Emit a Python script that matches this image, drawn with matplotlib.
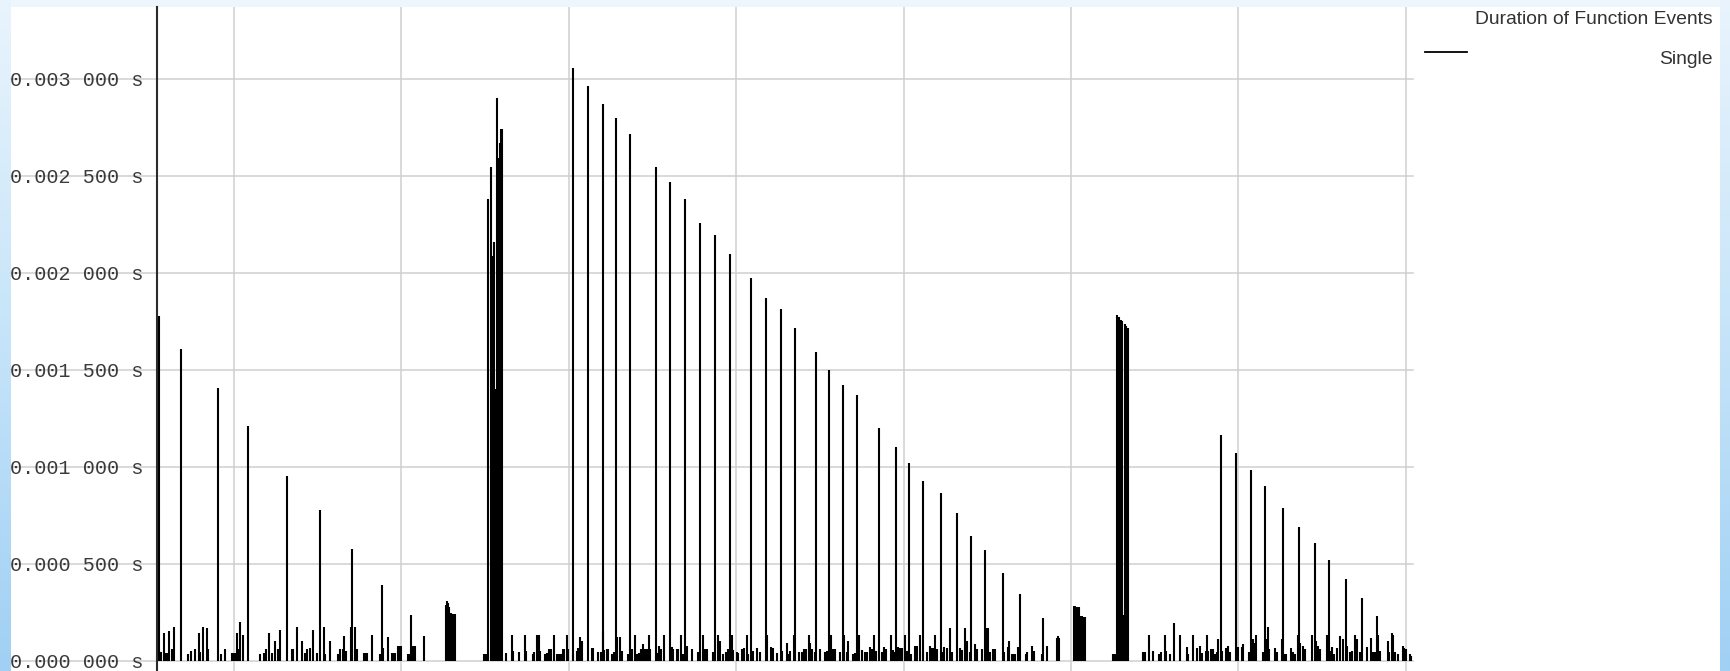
import matplotlib
matplotlib.use("Agg")
import matplotlib.pyplot as plt
import numpy as np
from matplotlib.lines import Line2D
from matplotlib.colors import LinearSegmentedColormap

# ---------------- data: event start time (ms) and duration (microseconds) ----------------
left_t = [0.5520, 0.6834, 0.9044, 1.0818, 1.3166, 1.5137, 1.7067, 1.8861, 2.0554, 2.1370]
left_us = [1780, 1610, 1406, 1213, 954, 780, 577, 392, 235, 131]

clusterA_t = [2.2664, 2.2724, 2.2784, 2.2844, 2.2903, 2.2963, 2.3023, 2.3083, 2.3142, 2.3202]
clusterA_us = [290, 307, 300, 280, 246, 246, 242, 242, 242, 242]

clusterB_t = [2.4934, 2.4994, 2.5054, 2.5114, 2.5173, 2.5197, 2.5352, 2.5436, 2.5532,
              2.5615, 2.5711, 2.5794, 2.5872, 2.5950, 2.6027]
clusterB_us = [36, 36, 36, 36, 36, 2380, 2545, 2085, 2160, 1400, 2900, 2590, 2670, 2740, 2740]

mid_t = [3.0251, 3.1129, 3.2013, 3.2820, 3.3674, 3.5209, 3.6057, 3.6959, 3.7850, 3.8734,
         3.9630, 4.0866, 4.1786, 4.2652, 4.3513, 4.4767, 4.5556, 4.6356, 4.7187, 4.8536,
         4.9516, 5.0323, 5.1147, 5.2217, 5.3184, 5.4020, 5.4833, 5.5960, 5.6924, 5.8298]
mid_us = [3058, 2963, 2870, 2800, 2715, 2545, 2470, 2380, 2260, 2195,
          2100, 1975, 1870, 1815, 1715, 1595, 1500, 1420, 1370, 1200,
          1105, 1020, 925, 865, 760, 645, 570, 455, 347, 223]

clusterC_t = [6.0200, 6.0259, 6.0339, 6.0419, 6.0498, 6.0578, 6.0658, 6.0737, 6.0817]
clusterC_us = [283, 283, 277, 277, 277, 232, 232, 225, 225]

clusterD_t = [6.2509, 6.2599, 6.2688, 6.2748, 6.2897, 6.2987, 6.3059, 6.3136, 6.3214, 6.3298, 6.3382]
clusterD_us = [36, 36, 36, 1785, 1773, 1758, 1750, 235, 1735, 1725, 1718]

right_t = [6.8960, 6.9838, 7.0734, 7.1606, 7.2664, 7.3639, 7.4554, 7.5430, 7.6411, 7.7365, 7.8280]
right_us = [1167, 1070, 986, 900, 790, 690, 610, 520, 423, 325, 234]

small1_t = [0.5480, 0.5540, 0.5619, 0.5838, 0.5918, 0.5978, 0.6017, 0.6117, 0.6276, 0.6436,
            0.7232, 0.7431, 0.7650, 0.7909, 0.7969, 0.8128, 0.8387, 0.8467, 0.9203, 0.9442,
            0.9860, 0.9960, 1.0060, 1.0159, 1.0259, 1.0358, 1.0518, 1.1553, 1.1792, 1.1891,
            1.2110, 1.2290, 1.2429, 1.2608, 1.2767, 1.3445, 1.3544, 1.3743, 1.4062, 1.4261,
            1.4341, 1.4560, 1.4719, 1.4938, 1.5356, 1.5436, 1.5714, 1.6192, 1.6332, 1.6491,
            1.6591, 1.6690, 1.6989, 1.7208, 1.7327, 1.7766, 1.7846, 1.7925, 1.8224, 1.8722,
            1.8921, 1.9180, 1.9458, 1.9538, 1.9618, 1.9817, 1.9877, 1.9956, 2.0414, 2.0494,
            2.0713, 2.0773, 2.0833]
small1_us = [46, 53, 46, 146, 43, 43, 43, 153, 60, 177,
             36, 53, 60, 143, 46, 177, 168, 60, 36, 60,
             43, 43, 43, 143, 60, 201, 136, 36, 43, 60,
             146, 43, 103, 60, 160, 60, 60, 177, 103, 43,
             60, 69, 160, 43, 177, 36, 103, 36, 60, 60,
             127, 53, 177, 177, 60, 43, 43, 43, 136, 36,
             69, 125, 43, 43, 43, 77, 77, 77, 36, 36,
             77, 77, 77]

small2_t = [2.6229, 2.6587, 2.6647, 2.7045, 2.7384, 2.7443, 2.7841, 2.7921, 2.8120, 2.8200,
            2.8279, 2.8598, 2.8718, 2.8837, 2.8937, 2.9096, 2.9315, 2.9395, 2.9474, 2.9554,
            2.9634, 2.9713, 2.9892, 2.9972, 3.0271, 3.0470, 3.0570, 3.0669, 3.0769, 3.1366,
            3.1426, 3.1765, 3.1904, 3.2063, 3.2123, 3.2262, 3.2322, 3.2561, 3.2720, 3.2860,
            3.3059, 3.3158, 3.3557, 3.3776, 3.3955, 3.4054, 3.4214, 3.4333, 3.4433, 3.4552,
            3.4652, 3.4791, 3.4851, 3.5289, 3.5408, 3.5508, 3.5687, 3.6145, 3.6245, 3.6444,
            3.6504, 3.6703, 3.6842, 3.7081, 3.7340, 3.7698, 3.7997, 3.8136, 3.8236, 3.8594,
            3.8893, 3.9032, 3.9232, 3.9391, 3.9490, 3.9729, 3.9829, 4.0028, 4.0128, 4.0327,
            4.0446, 4.0625, 4.0685, 4.0984, 4.1223, 4.1422, 4.1820, 4.2079, 4.2179, 4.2417,
            4.2716]
small2_us = [43, 136, 53, 46, 136, 53, 36, 46, 136, 136,
             53, 36, 43, 60, 60, 136, 36, 36, 36, 36,
             60, 60, 136, 60, 36, 53, 64, 125, 103, 64,
             64, 46, 46, 155, 57, 60, 60, 36, 46, 125,
             125, 53, 36, 60, 136, 36, 43, 60, 86, 60,
             60, 136, 60, 43, 77, 60, 136, 74, 60, 60,
             60, 136, 36, 77, 60, 46, 136, 60, 60, 46,
             136, 103, 36, 46, 60, 136, 57, 46, 43, 60,
             64, 136, 36, 53, 64, 46, 136, 70, 64, 43,
             53]

small3_t = [4.3015, 4.3115, 4.3214, 4.3453, 4.3752, 4.3911, 4.4071, 4.4170, 4.4349, 4.4409,
            4.4509, 4.4708, 4.5006, 4.5305, 4.5405, 4.5644, 4.5803, 4.5903, 4.6201, 4.6460,
            4.6599, 4.6699, 4.6998, 4.7097, 4.7336, 4.7495, 4.7695, 4.7794, 4.7993, 4.8093,
            4.8252, 4.8352, 4.8690, 4.8850, 4.8949, 4.9228, 4.9347, 4.9487, 4.9686, 4.9785,
            4.9885, 5.0084, 5.0184, 5.0442, 5.0681, 5.0781, 5.0980, 5.1179, 5.1378, 5.1577,
            5.1677, 5.1777, 5.1876, 5.1976, 5.2314, 5.2434, 5.2573, 5.2772, 5.2872, 5.3370,
            5.3469, 5.3688, 5.3768, 5.3967, 5.4266, 5.4365, 5.4664, 5.4963, 5.5062, 5.5162,
            5.5361, 5.5461, 5.6018, 5.6257, 5.6317, 5.6496, 5.6576, 5.6655, 5.6855, 5.7313,
            5.7392, 5.7651, 5.7810, 5.8248, 5.8547, 5.9144, 5.9224, 5.9304]
small3_us = [94, 36, 53, 136, 46, 46, 60, 60, 136, 94,
             60, 46, 60, 46, 53, 136, 60, 60, 46, 136,
             46, 103, 36, 43, 136, 57, 46, 46, 70, 60,
             136, 53, 46, 70, 60, 136, 57, 46, 70, 64,
             64, 136, 53, 36, 77, 77, 136, 53, 46, 77,
             64, 64, 136, 60, 46, 70, 64, 168, 46, 64,
             57, 168, 103, 46, 86, 60, 60, 168, 168, 46,
             60, 60, 46, 70, 103, 36, 36, 36, 70, 36,
             46, 77, 53, 36, 77, 119, 127, 119]

small4_t = [6.4282, 6.4421, 6.4680, 6.4879, 6.5277, 6.5377, 6.5616, 6.5676, 6.5915, 6.6173,
            6.6512, 6.6910, 6.6970, 6.7308, 6.7547, 6.7706, 6.7806, 6.8064, 6.8104, 6.8204,
            6.8363, 6.8463, 6.8602, 6.8702, 6.8801, 6.9020, 6.9259, 6.9359, 6.9498, 6.9996,
            7.0195, 7.0295, 7.0653, 7.0852, 7.0952, 7.1051, 7.1489, 7.1649, 7.1748, 7.1828,
            7.2186, 7.2326, 7.2584, 7.2784, 7.2843, 7.3122, 7.3242, 7.3381, 7.3540, 7.3680,
            7.3839, 7.3978, 7.4377, 7.4635, 7.4775, 7.4874, 7.5273, 7.5472, 7.5571, 7.5730,
            7.5870, 7.6069, 7.6228, 7.6467, 7.6666, 7.6766, 7.6965, 7.7065, 7.7264, 7.7662,
            7.7901, 7.8020, 7.8160, 7.8359, 7.8459, 7.8917, 7.8976, 7.9155, 7.9255, 7.9355,
            7.9554, 7.9813, 7.9912, 8.0012, 8.0251, 8.0311]
small4_us = [46, 46, 136, 53, 36, 46, 136, 53, 36, 194,
             136, 70, 36, 136, 64, 77, 43, 53, 136, 53,
             60, 60, 36, 46, 112, 53, 64, 77, 46, 70,
             70, 86, 46, 112, 94, 136, 46, 112, 177, 60,
             64, 46, 112, 36, 36, 64, 46, 36, 136, 94,
             77, 60, 136, 103, 77, 60, 136, 53, 70, 36,
             64, 127, 112, 77, 46, 53, 136, 112, 46, 70,
             119, 46, 46, 136, 53, 103, 46, 146, 136, 46,
             36, 77, 64, 60, 36, 26]

ytick_values = [0.0, 0.0005, 0.0010, 0.0015, 0.0020, 0.0025, 0.0030]
ytick_labels = ["0.000 000 s", "0.000 500 s", "0.001 000 s", "0.001 500 s",
                "0.002 000 s", "0.002 500 s", "0.003 000 s"]
xgrid_values = [1, 2, 3, 4, 5, 6, 7, 8]
legend_title = "Duration of Function Events"
series_name = "Single"

# ---------------- figure ----------------
W, H = 1731, 671
fig = plt.figure(figsize=(W / 100, H / 100), dpi=100)
fig.patch.set_facecolor("#eef6fd")

# background: white canvas with pale-blue frame gradients at left / right edges
bg = fig.add_axes([0, 0, 1, 1], zorder=-10)
bg.set_xlim(0, 1)
bg.set_ylim(0, 1)
bg.axis("off")
bg.add_patch(plt.Rectangle((11 / W, 0), (1720 - 11) / W, 1 - 7 / H, color="white", lw=0))
cmap = LinearSegmentedColormap.from_list("edge", ["#a0d0f4", "#c6e4f9", "#e9f4fd"])
grad = np.linspace(0, 1, 256).reshape(-1, 1)
bg.imshow(grad, extent=[0, 11 / W, 0, 1], origin="lower", aspect="auto", cmap=cmap)
bg.imshow(grad, extent=[1720 / W, 1, 0, 1], origin="lower", aspect="auto", cmap=cmap)

ax = fig.add_axes([157 / W, 0, (1413 - 157) / W, 1 - 7 / H])
ax.set_facecolor("white")
ax.patch.set_alpha(0)

times = [left_t, clusterA_t, clusterB_t, mid_t, clusterC_t, clusterD_t, right_t,
         small1_t, small2_t, small3_t, small4_t]
durs = [left_us, clusterA_us, clusterB_us, mid_us, clusterC_us, clusterD_us, right_us,
        small1_us, small2_us, small3_us, small4_us]
for t, d in zip(times, durs):
    ax.vlines(np.array(t), 0, np.array(d) * 1e-6, color="black", lw=1.5, zorder=3)

ax.set_xlim(0.540, 8.043)
ax.set_ylim(-0.000052, 0.003371)
ax.set_xticks(xgrid_values)
ax.set_xticklabels([])
ax.set_yticks(ytick_values)
ax.set_yticklabels(ytick_labels, family="Liberation Mono", fontsize=14.5, color="#3a3a3a")
ax.tick_params(axis="both", length=0)
ax.tick_params(axis="y", pad=9.5)
ax.grid(True, axis="x", color="#cfcfcf", lw=1.1)
for yv in ytick_values:
    ax.axhline(yv, xmin=-0.116, xmax=1.0, color="#cfcfcf", lw=1.1, clip_on=False, zorder=1)
for s in ["top", "right", "bottom"]:
    ax.spines[s].set_visible(False)
ax.spines["left"].set_color("#2b2b2b")
ax.spines["left"].set_linewidth(1.5)
ax.spines["left"].set_zorder(4)

# legend (manual, right-aligned like the original)
fig.text(1713 / W, 1 - 19 / H, legend_title, ha="right", va="center",
         family="Liberation Sans", fontsize=13.9, color="#333333")
fig.text(1713 / W, 1 - 60 / H, series_name, ha="right", va="center",
         family="Liberation Sans", fontsize=13.9, color="#333333")
fig.add_artist(Line2D([1425 / W, 1467 / W], [1 - 52 / H, 1 - 52 / H], color="black", lw=1.3))

fig.savefig("out.png", dpi=100)
